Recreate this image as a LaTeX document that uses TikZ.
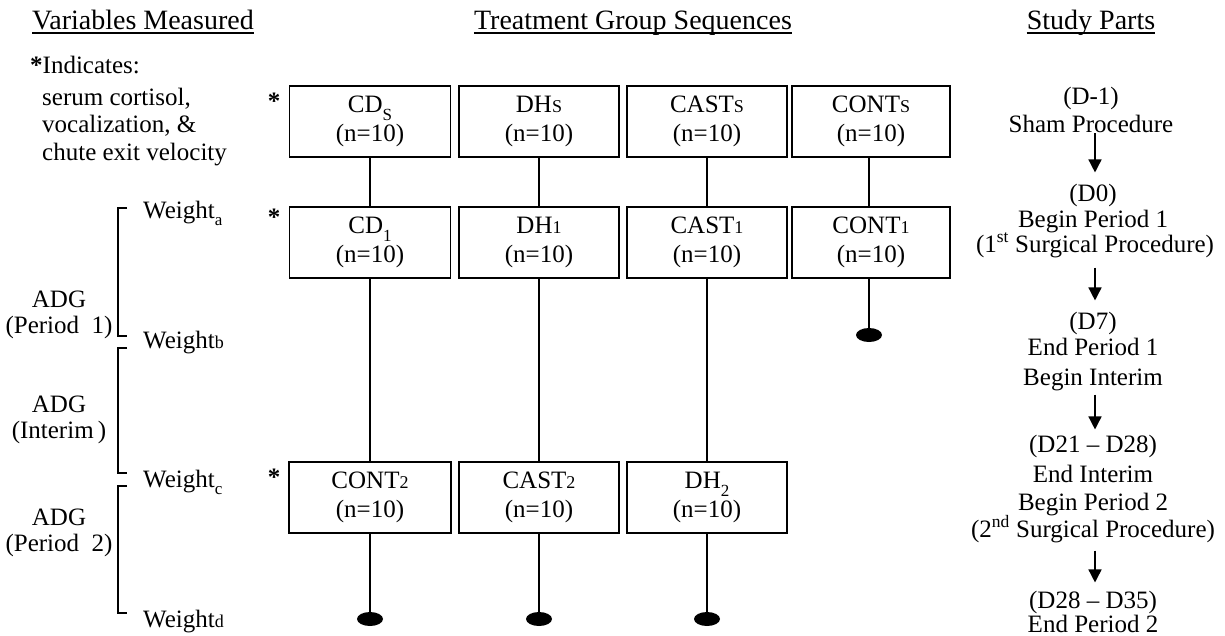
\documentclass[tikz,border=0pt]{standalone}
\usepackage{fontspec}
\setmainfont{Liberation Serif}
\usetikzlibrary{shapes.geometric,arrows.meta}
\newcommand\lowsub[1]{\raisebox{-0.3em}{\fontsize{17}{17}\selectfont #1}}
\newcommand\smsub[1]{{\fontsize{18}{18}\selectfont #1}}
\tikzset{
  box/.style={draw, line width=1.5pt, minimum width=161pt, minimum height=71pt, inner sep=0pt, align=center, font=\fontsize{25}{29}\selectfont},
  txt/.style={inner sep=0pt, font=\fontsize{25}{29}\selectfont},
  head/.style={inner sep=0pt, font=\fontsize{28}{32}\selectfont},
  conn/.style={line width=1.5pt},
  dotend/.style={ellipse, fill=black, minimum width=26pt, minimum height=14pt, inner sep=0pt},
  arr/.style={line width=1.5pt, -{Triangle[width=13pt,length=13pt]}},
  brk/.style={line width=1.5pt},
  uline/.style={line width=1.5pt}
}
\begin{document}
\begin{tikzpicture}[x=1pt,y=-1pt]
\useasboundingbox (0,0) rectangle (1225,635);
\fill[white] (0,0) rectangle (1225,635);
% headings
\node[head, anchor=base] (h1) at (143,29) {Variables Measured};
\node[head, anchor=base] (h2) at (633,29) {Treatment Group Sequences};
\node[head, anchor=base] (h3) at (1091,29) {Study Parts};
\foreach \h in {h1,h2,h3}{\draw[uline] ([yshift=-4pt]\h.base west) -- ([yshift=-4pt]\h.base east);}
% left legend
\node[txt, anchor=base west] (ind) at (30,73) {\textbf{*}Indicates:};
\node[txt, anchor=base west] (l1) at (42,105) {serum\ cortisol,};
\node[txt, anchor=base west] (l2) at (42,132) {vocalization, \&};
\node[txt, anchor=base west] (l3) at (42,160) {chute exit velocity};
% weights
\node[txt, anchor=base west] (wa) at (143,218) {Weight\lowsub{a}};
\node[txt, anchor=base west] (wb) at (143,348) {Weight\smsub{b}};
\node[txt, anchor=base west] (wc) at (143,487) {Weight\lowsub{c}};
\node[txt, anchor=base west] (wd) at (143,627) {Weight\smsub{d}};
% brackets
\draw[brk] (127,208) -- (118,208) -- (118,336) -- (127,336);
\draw[brk] (127,348) -- (118,348) -- (118,473) -- (127,473);
\draw[brk] (127,486) -- (118,486) -- (118,613) -- (127,613);
% ADG labels
\node[txt, anchor=base] (a1) at (59,307) {ADG};
\node[txt, anchor=base] (a1b) at (59,333) {(Period\ \ 1)};
\node[txt, anchor=base] (a2) at (59,412) {ADG};
\node[txt, anchor=base] (a2b) at (59,438) {(Interim\,)};
\node[txt, anchor=base] (a3) at (59,525) {ADG};
\node[txt, anchor=base] (a3b) at (59,551) {(Period\ \ 2)};
% asterisks
\node[txt, anchor=base] (s1) at (274,109) {\textbf{*}};
\node[txt, anchor=base] (s2) at (274,225) {\textbf{*}};
\node[txt, anchor=base] (s3) at (274,485) {\textbf{*}};
% boxes row 1
\node[box] (b11) at (370,121.5) {CD\lowsub{S}\\(n=10)};
\node[box, minimum width=160pt] (b12) at (539,121.5) {DH\smsub{S}\\(n=10)};
\node[box, minimum width=160pt] (b13) at (707,121.5) {CAST\smsub{S}\\(n=10)};
\node[box, minimum width=158pt] (b14) at (871,121.5) {CONT\smsub{S}\\(n=10)};
% row 2
\node[box] (b21) at (370,242.5) {CD\lowsub{1}\\(n=10)};
\node[box, minimum width=160pt] (b22) at (539,242.5) {DH\smsub{1}\\(n=10)};
\node[box, minimum width=160pt] (b23) at (707,242.5) {CAST\smsub{1}\\(n=10)};
\node[box, minimum width=158pt] (b24) at (871,242.5) {CONT\smsub{1}\\(n=10)};
% row 3
\node[box, minimum width=162pt] (b31) at (370,497.5) {CONT\smsub{2}\\(n=10)};
\node[box, minimum width=160pt] (b32) at (539,497.5) {CAST\smsub{2}\\(n=10)};
\node[box, minimum width=160pt] (b33) at (707,497.5) {DH\lowsub{2}\\(n=10)};
% end dots
\node[dotend] (d1) at (370,619) {};
\node[dotend] (d2) at (539,619) {};
\node[dotend] (d3) at (707,619) {};
\node[dotend] (d4) at (869,335) {};
% connectors
\draw[conn] (b11) -- (b21);
\draw[conn] (b12) -- (b22);
\draw[conn] (b13) -- (b23);
\draw[conn] (b14.south -| d4) -- (b24.north -| d4);
\draw[conn] (b21) -- (b31);
\draw[conn] (b22) -- (b32);
\draw[conn] (b23) -- (b33);
\draw[conn] (b24.south -| d4) -- (d4);
\draw[conn] (b31) -- (d1);
\draw[conn] (b32) -- (d2);
\draw[conn] (b33) -- (d3);
% study parts
\coordinate (ax) at (1095,0);
\node[txt, anchor=base] (p1a) at (1091,104) {(D-1)};
\node[txt, anchor=base] (p1b) at (1091,132) {Sham Procedure};
\node[txt, anchor=base] (p2a) at (1093,201) {(D0)};
\node[txt, anchor=base] (p2b) at (1093,227) {Begin Period 1};
\node[txt, anchor=base] (p2c) at (1095,252) {(1\textsuperscript{st} Surgical Procedure)};
\node[txt, anchor=base] (p3a) at (1093,329) {(D7)};
\node[txt, anchor=base] (p3b) at (1093,355) {End Period 1};
\node[txt, anchor=base] (p3c) at (1093,385) {Begin Interim};
\node[txt, anchor=base] (p4a) at (1093,452) {(D21 – D28)};
\node[txt, anchor=base] (p4b) at (1093,482) {End Interim};
\node[txt, anchor=base] (p4c) at (1093,510) {Begin Period 2};
\node[txt, anchor=base] (p4d) at (1093,537) {(2\textsuperscript{nd} Surgical Procedure)};
\node[txt, anchor=base] (p5a) at (1093,608) {(D28 – D35)};
\node[txt, anchor=base] (p5b) at (1093,632) {End Period 2};
\draw[arr, shorten <=1pt, shorten >=11pt] (p1b.south -| ax) -- (p2a.north -| ax);
\draw[arr, shorten <=10pt, shorten >=11pt] (p2c.south -| ax) -- (p3a.north -| ax);
\draw[arr, shorten <=4pt, shorten >=5pt] (p3c.south -| ax) -- (p4a.north -| ax);
\draw[arr, shorten <=8pt, shorten >=8pt] (p4d.south -| ax) -- (p5a.north -| ax);
\end{tikzpicture}
\end{document}
